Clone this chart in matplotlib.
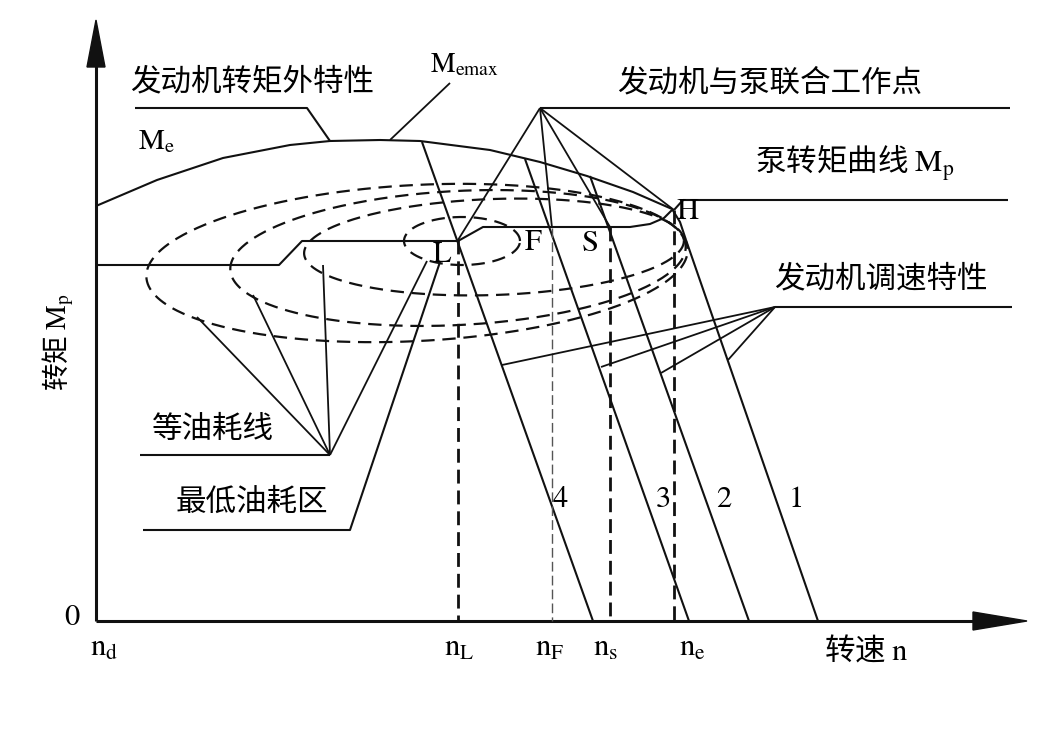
import numpy as np
import matplotlib
matplotlib.use('Agg')
import matplotlib.pyplot as plt

plt.rcParams['mathtext.fontset'] = 'stix'
CJK = ['Noto Sans CJK SC', 'DejaVu Sans']
INK = '#111111'

# canvas is laid out in pixel units of the 1058x733 picture (y grows downward)
W, H = 1058, 733
origin = (96, 621)
x_axis_end = 975
y_axis_end = 65

# engine torque external characteristic M_e
me_x = [96, 157, 223, 290, 330, 380, 420, 490, 540, 587, 633, 672]
me_y = [206, 180, 158, 145, 141, 140, 141, 150, 162, 176, 192, 209]

# pump torque curve M_p
mp_x = [96, 279, 302, 458, 483, 630, 650, 664, 672]
mp_y = [265, 265, 241, 241, 227, 227, 224, 218, 210]

# governor lines 1..4 (top point -> point on the n axis)
gov_top_x = [686, 590, 525, 422]
gov_top_y = [240, 176, 159, 142]
gov_bot_x = [818, 749, 689, 593]
gov_names = ['1', '2', '3', '4']
gov_label_x = [796, 724, 663, 560]
# governor line 1 starts at H and bends into the straight part
gov1_head_x = [672, 680, 686]
gov1_head_y = [209, 222, 240]

# working points L, F, S, H
pt_names = ['L', 'F', 'S', 'H']
pt_x = [458, 552, 610, 674]
pt_y = [240, 228, 227, 210]
pt_label_x = [442, 533, 590, 687]
pt_label_y = [255, 243, 244, 212]

# speed marks on the n axis
n_names = ['n_d', 'n_L', 'n_F', 'n_s', 'n_e']
n_label_x = [104, 459, 550, 606, 692]

# equal fuel consumption curves: centre x, centre y, half length, half height, tilt (deg)
ell_cx = [417, 458, 494, 462]
ell_cy = [263, 258, 247, 241]
ell_a = [271, 228, 190, 58]
ell_b = [78, 67, 48, 24]
ell_tilt = [3.0, 3.0, 2.0, 0.0]

# leader lines
joint_apex = (540, 108)
gov_apex = (775, 307)
gov_hits_x = [502, 601, 661, 728]
gov_hits_y = [365, 367, 373, 360]
fuel_apex = (330, 455)
fuel_hits_x = [197, 253, 323, 427]
fuel_hits_y = [317, 295, 265, 261]
minfuel_apex = (350, 530)
minfuel_hit = (440, 262)

fig = plt.figure(figsize=(W / 100, H / 100), dpi=100)
ax = fig.add_axes([0, 0, 1, 1])
ax.set_xlim(0, W)
ax.set_ylim(H, 0)
ax.axis('off')

LW = 1.5


def line(xs, ys, **kw):
    kw.setdefault('color', INK)
    kw.setdefault('lw', LW)
    ax.plot(xs, ys, solid_capstyle='butt', **kw)


# axes with arrow heads
ox, oy = origin
line([ox, x_axis_end], [oy, oy], lw=2.2)
line([ox, ox], [oy, y_axis_end], lw=2.2)
ax.fill([x_axis_end - 2, 1027, x_axis_end - 2], [oy - 9, oy, oy + 9], color=INK)
ax.fill([ox - 9, ox, ox + 9], [y_axis_end + 2, 20, y_axis_end + 2], color=INK)

# engine external characteristic and pump curve
line(me_x, me_y)
line(mp_x, mp_y)

# governor lines
line(gov1_head_x, gov1_head_y)
for tx, ty, bx in zip(gov_top_x, gov_top_y, gov_bot_x):
    line([tx, bx], [ty, oy])
for name, lx in zip(gov_names, gov_label_x):
    ax.text(lx, 500, name, fontsize=22, ha='center', va='center', family='STIXGeneral')

# equal fuel consumption curves (dashed)
t = np.linspace(0, 2 * np.pi, 400)
for cx, cy, a, b, th in zip(ell_cx, ell_cy, ell_a, ell_b, ell_tilt):
    r = np.radians(th)
    ex = cx + a * np.cos(t) * np.cos(r) - b * np.sin(t) * np.sin(r)
    ey = cy - (a * np.cos(t) * np.sin(r) + b * np.sin(t) * np.cos(r))
    ax.plot(ex, ey, color=INK, lw=1.6, linestyle=(0, (6, 3.5)))

# projections of the working points onto the n axis
for i, (px, py) in enumerate(zip(pt_x, pt_y)):
    if pt_names[i] == 'F':
        ax.plot([px, px], [py, oy], color='#555555', lw=1.0, linestyle=(0, (7, 3)))
    else:
        ax.plot([px, px], [py, oy], color=INK, lw=2.0, linestyle=(0, (5, 2.5)))
for name, lx, ly in zip(pt_names, pt_label_x, pt_label_y):
    ax.text(lx, ly, name, fontsize=22, ha='center', va='center', family='STIXGeneral')

# joint working point leader
line([joint_apex[0], 1010], [joint_apex[1], joint_apex[1]])
for px, py in zip(pt_x, pt_y):
    line([joint_apex[0], px], [joint_apex[1], py], lw=1.3)
ax.text(770, 83, '发动机与泵联合工作点', fontsize=22, family=CJK, ha='center', va='center')

# pump torque curve leader
line([pt_x[3], 683, 1008], [pt_y[3], 200, 200])
ax.text(855, 163, '泵转矩曲线 $\\mathrm{M_p}$', fontsize=22, family=CJK, ha='center', va='center')

# engine governor characteristic leader
line([gov_apex[0], 1012], [gov_apex[1], gov_apex[1]])
for hx, hy in zip(gov_hits_x, gov_hits_y):
    line([gov_apex[0], hx], [gov_apex[1], hy], lw=1.3)
ax.text(881, 279, '发动机调速特性', fontsize=22, family=CJK, ha='center', va='center')

# engine external characteristic leader
line([135, 307, 330], [108, 108, 141])
ax.text(252, 82, '发动机转矩外特性', fontsize=22, family=CJK, ha='center', va='center')
line([450, 390], [83, 140], lw=1.3)
ax.text(430, 64, '$\\mathrm{M_{emax}}$', fontsize=20, ha='left', va='center')
ax.text(138, 141, '$\\mathrm{M_e}$', fontsize=21, ha='left', va='center')

# fuel consumption leaders
line([140, fuel_apex[0]], [fuel_apex[1], fuel_apex[1]])
for hx, hy in zip(fuel_hits_x, fuel_hits_y):
    line([fuel_apex[0], hx], [fuel_apex[1], hy], lw=1.3)
ax.text(213, 430, '等油耗线', fontsize=22, family=CJK, ha='center', va='center')

line([143, minfuel_apex[0], minfuel_hit[0]], [minfuel_apex[1], minfuel_apex[1], minfuel_hit[1]])
ax.text(252, 502, '最低油耗区', fontsize=22, family=CJK, ha='center', va='center')

# axis labels
ax.text(72, 618, '0', fontsize=22, ha='center', va='center', family='STIXGeneral')
for name, lx in zip(n_names, n_label_x):
    ax.text(lx, 648, '$\\mathrm{' + name + '}$', fontsize=22, ha='center', va='center')
ax.text(866, 651, '转速 $\\mathrm{n}$', fontsize=22, family=CJK, ha='center', va='center')
ax.text(58, 342, '转矩 $\\mathrm{M_p}$', fontsize=20, family=CJK, rotation=90,
        ha='center', va='center')

fig.savefig('out.png', dpi=100, facecolor='white')
